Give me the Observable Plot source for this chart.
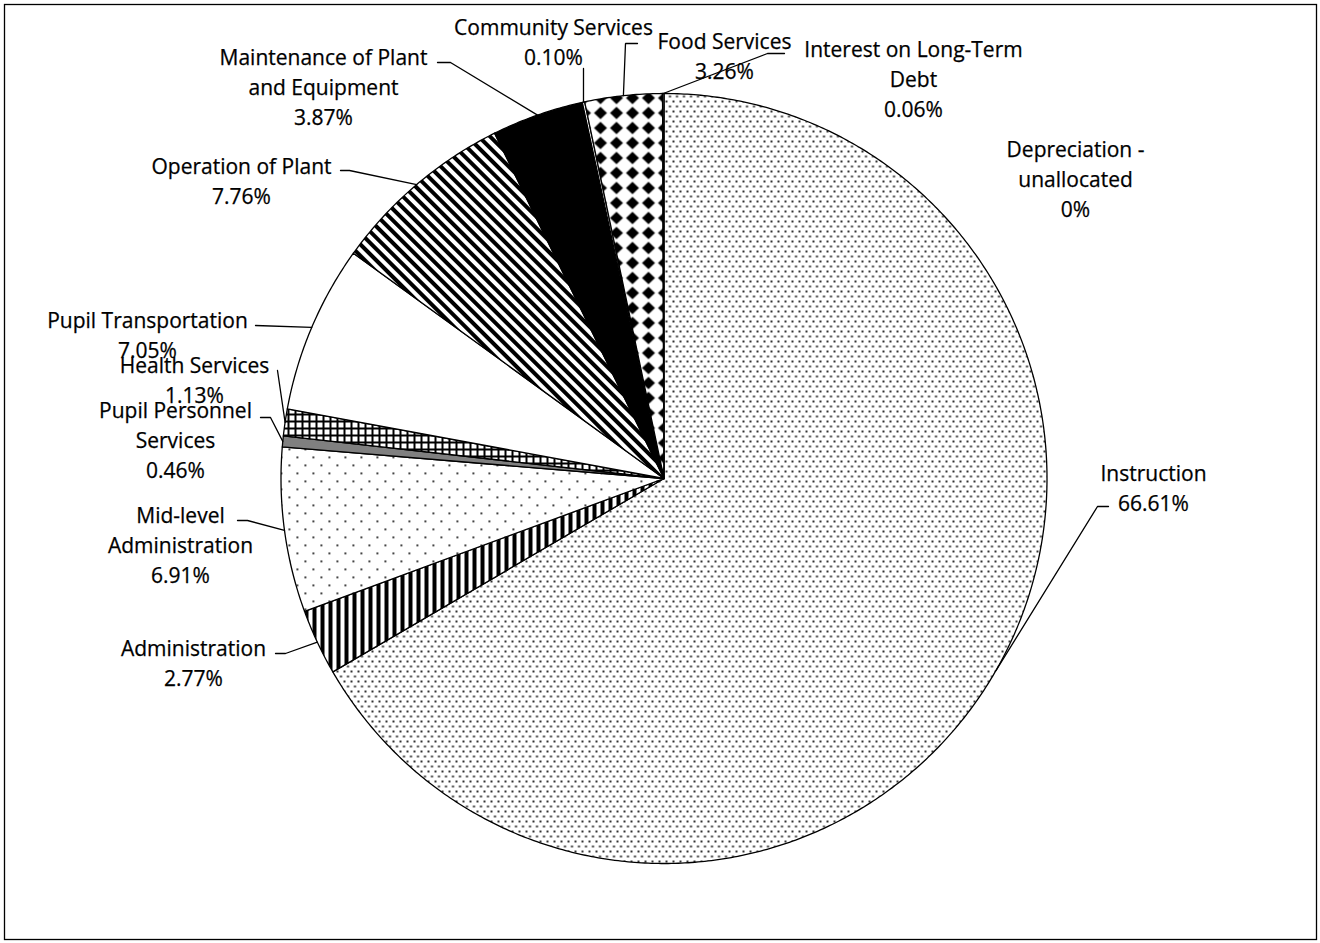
<!DOCTYPE html>
<html><head><meta charset="utf-8">
<script src="https://cdn.jsdelivr.net/npm/d3@7"></script>
<script src="https://cdn.jsdelivr.net/npm/@observablehq/plot@0.6"></script>
<style>
html,body{margin:0;padding:0;background:#fff;}
#chart{width:1320px;height:943px;}
</style></head><body><div id="chart"></div>
<script>
// ---- data ----
const categories = ["Instruction", "Administration", "Mid-level Administration", "Pupil Personnel Services",
  "Health Services", "Pupil Transportation", "Operation of Plant", "Maintenance of Plant and Equipment",
  "Community Services", "Food Services", "Interest on Long-Term Debt", "Depreciation - unallocated"];
const values = [66.61, 2.77, 6.91, 0.46, 1.13, 7.05, 7.76, 3.87, 0.10, 3.26, 0.06, 0];

// ---- layout / style (not data) ----
const wrappedNames = ["Instruction", "Administration", "Mid-level\nAdministration", "Pupil Personnel\nServices",
  "Health Services", "Pupil Transportation", "Operation of Plant", "Maintenance of Plant\nand Equipment",
  "Community Services", "Food Services", "Interest on Long-Term\nDebt", "Depreciation -\nunallocated"];
const fills = ["url(#p-instr)", "url(#p-vert)", "url(#p-dots)", "#808080", "url(#p-grid)", "#ffffff",
  "url(#p-diag)", "#000000", "#ffffff", "url(#p-diam)", "#ffffff", "#ffffff"];
const labelX = [1153, 193, 180, 175, 194, 147, 241, 323, 553, 724, 913, 1075];
const labelY = [486, 661, 543, 438, 377.5, 333, 179, 85, 40, 53.5, 77, 177];
// leader: start and elbow points near label (null = no leader)
const leaderStart = [[1108,506],[275,653],[237,520],[260,417],[277,370],[255,325],[340,170],[437,62],[583,68],[637,43],[784,53], null];
const leaderElbow = [[1097,506],[285,653],[247,520],[270,417],null,null,[349,170],[450,62],null,[625,43],[767,53], null];

const CX = 663.5, CY = 478, RX = 383, RY = 385;
const FONT = 21;

const table = categories.map((c, i) => ({cat: c, value: values[i], fill: fills[i]}));
const arcs = d3.pie().sort(null).value(d => d.value)(table);

const slicePts = [];
arcs.forEach((a, i) => {
  const span = a.endAngle - a.startAngle;
  if (span <= 0) return;
  const n = Math.max(2, Math.ceil(span / (Math.PI / 360)));
  slicePts.push({cat: a.data.cat, fill: a.data.fill, x: CX, y: CY});
  for (let k = 0; k <= n; k++) {
    const t = a.startAngle + span * k / n;
    slicePts.push({cat: a.data.cat, fill: a.data.fill, x: CX + RX * Math.sin(t), y: CY - RY * Math.cos(t)});
  }
  slicePts.push({cat: a.data.cat, fill: a.data.fill, x: CX, y: CY});
});

const leaderPts = [];
arcs.forEach((a, i) => {
  if (!leaderStart[i]) return;
  const m = (a.startAngle + a.endAngle) / 2;
  const pts = [leaderStart[i]];
  if (leaderElbow[i]) pts.push(leaderElbow[i]);
  pts.push([CX + RX * Math.sin(m), CY - RY * Math.cos(m)]);
  pts.forEach(p => leaderPts.push({cat: a.data.cat, x: p[0], y: p[1]}));
});

const fmt = v => v === 0 ? "0%" : v.toFixed(2) + "%";
const labels = categories.map((c, i) => ({x: labelX[i], y: labelY[i], text: wrappedNames[i] + "\n" + fmt(values[i])}));

const plot = Plot.plot({
  width: 1320, height: 943, margin: 0,
  x: {domain: [0, 1320], range: [0, 1320], axis: null},
  y: {domain: [0, 943], range: [0, 943], axis: null},
  color: {type: "identity"},
  style: {fontFamily: "'Open Sans', sans-serif", background: "#fff", color: "#000"},
  marks: [
    Plot.line(slicePts, {x: "x", y: "y", z: "cat", fill: "fill", stroke: "#000", strokeWidth: 1.3, strokeLinejoin: "round", curve: "linear"}),
    Plot.line(leaderPts, {x: "x", y: "y", z: "cat", stroke: "#000", strokeWidth: 1.3, strokeLinejoin: "miter", curve: "linear"}),
    Plot.text(labels, {x: "x", y: "y", text: "text", fontSize: FONT, lineHeight: 30 / FONT, textAnchor: "middle", lineAnchor: "middle", fill: "#000", stroke: "#000", strokeWidth: 0.25}),
    Plot.frame({inset: 4, stroke: "#000", strokeWidth: 1.3})
  ]
});

const defs = `
<pattern id="p-instr" patternUnits="userSpaceOnUse" width="7" height="10">
  <rect width="7" height="10" fill="#fff"/>
  <rect x="0" y="0" width="2" height="2" fill="#333"/>
  <rect x="3.5" y="5" width="2" height="2" fill="#333"/>
</pattern>
<pattern id="p-dots" patternUnits="userSpaceOnUse" width="16" height="16">
  <rect width="16" height="16" fill="#fff"/>
  <rect x="0" y="0" width="1.7" height="1.7" fill="#000"/>
  <rect x="8" y="8" width="1.7" height="1.7" fill="#000"/>
</pattern>
<pattern id="p-vert" patternUnits="userSpaceOnUse" width="8" height="8">
  <rect width="8" height="8" fill="#fff"/>
  <rect x="0" y="0" width="4" height="8" fill="#000"/>
</pattern>
<pattern id="p-grid" patternUnits="userSpaceOnUse" width="7" height="7">
  <rect width="7" height="7" fill="#fff"/>
  <rect x="0" y="0" width="2" height="7" fill="#000"/>
  <rect x="0" y="0" width="7" height="2" fill="#000"/>
</pattern>
<pattern id="p-diag" patternUnits="userSpaceOnUse" width="8" height="8" patternTransform="rotate(-45)">
  <rect width="8" height="8" fill="#fff"/>
  <rect x="0" y="0" width="4" height="8" fill="#000"/>
</pattern>
<pattern id="p-diam" patternUnits="userSpaceOnUse" width="16" height="15">
  <rect width="16" height="15" fill="#fff"/>
  <polygon points="8,1.3 14.5,7.5 8,13.7 1.5,7.5" fill="#000"/>
</pattern>`;
const d = document.createElementNS("http://www.w3.org/2000/svg", "defs");
d.innerHTML = defs;
plot.insertBefore(d, plot.firstChild);
document.getElementById("chart").appendChild(plot);
</script>
</body></html>
